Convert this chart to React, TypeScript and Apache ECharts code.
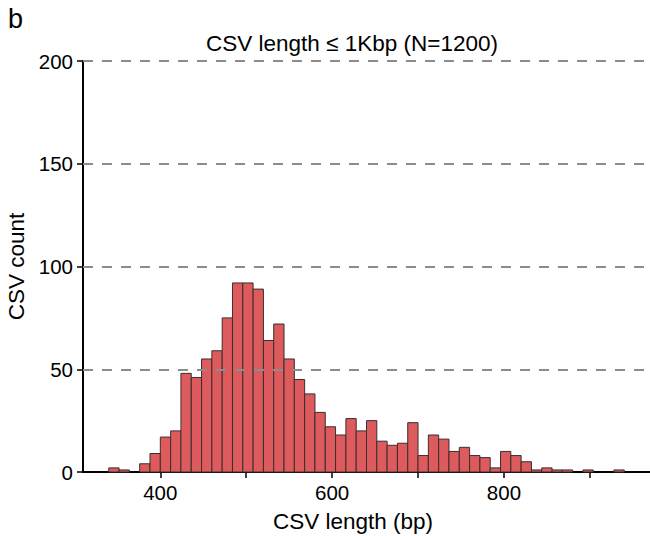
import React, { useEffect, useRef } from "react";
import * as echarts from "echarts";

const binStart = 340;
const binWidth = 12;
const counts = [
  2, 1, 0, 4, 9, 17, 20, 48, 46, 55,
  59, 75, 92, 92, 89, 64, 72, 55, 45, 38,
  29, 22, 18, 26, 20, 25, 15, 13, 14, 24,
  8, 18, 16, 10, 12, 8, 7, 2, 10, 8,
  5, 1, 2, 1, 1, 0, 1, 0, 0, 1,
];
const xTicks = [400, 500, 600, 700, 800, 900];
const xLabels = [400, 600, 800];
const yTicks = [50, 100, 150, 200];
const titleText = "CSV length \u2264 1Kbp (N=1200)";
const xName = "CSV length (bp)";
const yName = "CSV count";
const panelLabel = "b";

export default function App() {
  const ref = useRef<HTMLDivElement>(null);
  useEffect(() => {
    if (!ref.current) return;
    const chart = echarts.init(ref.current, null, { renderer: "svg" });
    const font = "Liberation Sans, Arial, Helvetica, sans-serif";
    const data = counts.map((c, i) => [binStart + i * binWidth, binStart + (i + 1) * binWidth, c]);
    chart.setOption({
      animation: false,
      backgroundColor: "#ffffff",
      textStyle: { fontFamily: font },
      grid: {
        left: 83,
        right: 0,
        top: 61,
        bottom: 64,
        containLabel: false,
        outerBoundsMode: "none",
      },
      graphic: [
        {
          type: "text",
          left: 8,
          top: 5,
          style: { text: panelLabel, fontSize: 27, fontFamily: font, fill: "#000" },
        },
        {
          type: "text",
          x: 352,
          y: 43,
          style: {
            text: titleText,
            fontSize: 22.5,
            fontFamily: font,
            fill: "#000",
            align: "center",
            verticalAlign: "middle",
          },
        },
        {
          type: "text",
          x: 353,
          y: 521,
          style: {
            text: xName,
            fontSize: 22.5,
            fontFamily: font,
            fill: "#000",
            align: "center",
            verticalAlign: "middle",
          },
        },
      ],
      xAxis: {
        type: "value",
        min: 310,
        max: 970,
        axisLine: { show: true, onZero: false, lineStyle: { color: "#000", width: 2 } },
        axisTick: {
          show: true,
          length: 6,
          customValues: xTicks,
          lineStyle: { color: "#000", width: 1.5 },
        },
        axisLabel: {
          customValues: xLabels,
          fontSize: 20.5,
          color: "#000",
          margin: 10,
          fontFamily: font,
        },
        splitLine: { show: false },
      },
      yAxis: {
        type: "value",
        min: 0,
        max: 200,
        interval: 50,
        name: yName,
        nameLocation: "middle",
        nameGap: 53,
        nameTextStyle: { fontSize: 22.5, color: "#000", fontFamily: font },
        axisLine: { show: true, lineStyle: { color: "#000", width: 2 } },
        axisTick: { show: true, length: 6, lineStyle: { color: "#000", width: 1.5 } },
        axisLabel: { fontSize: 20.5, color: "#000", margin: 10, fontFamily: font },
        splitLine: { show: false },
      },
      series: [
        {
          type: "custom",
          data,
          encode: { x: [0, 1], y: 2 },
          renderItem: (params: any, api: any) => {
            const c = api.value(2);
            if (!c) return null;
            const p0 = api.coord([api.value(0), c]);
            const p1 = api.coord([api.value(1), 0]);
            return {
              type: "rect",
              shape: { x: p0[0], y: p0[1], width: p1[0] - p0[0], height: p1[1] - p0[1] },
              style: { fill: "#dd5a5d", stroke: "#3a2f2f", lineWidth: 1 },
            };
          },
          markLine: {
            silent: true,
            symbol: "none",
            label: { show: false },
            lineStyle: { color: "#8c8c8c", width: 2, type: [10, 9] },
            data: yTicks.map((v) => ({ yAxis: v })),
            z: 10,
          },
          z: 2,
        },
      ],
    });
    return () => chart.dispose();
  }, []);
  return (
    <div
      ref={ref}
      style={{ position: "fixed", left: 0, top: 0, width: 650, height: 536, background: "#fff" }}
    />
  );
}
